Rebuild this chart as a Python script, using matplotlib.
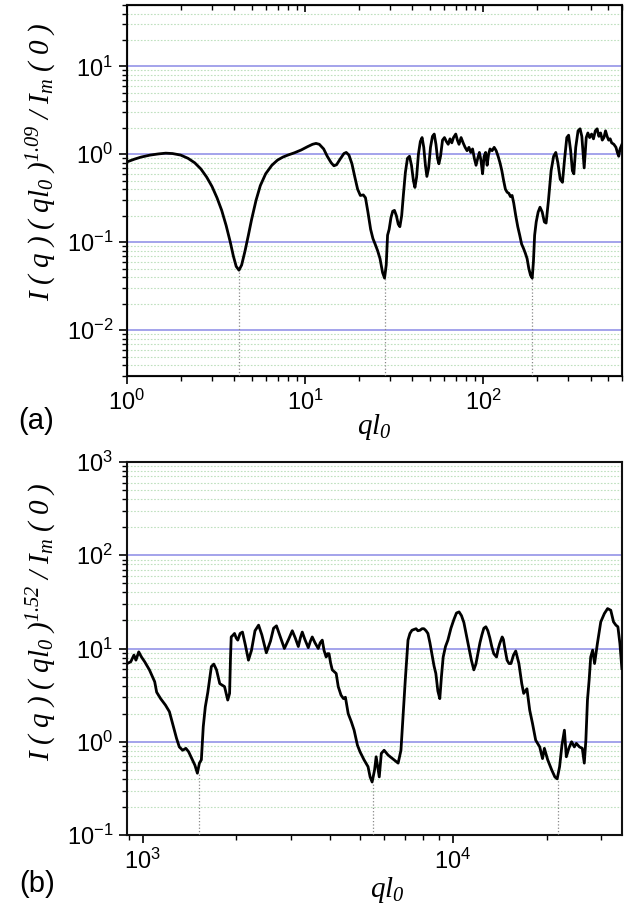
import matplotlib
matplotlib.use("Agg")
import matplotlib.pyplot as plt
from matplotlib.ticker import LogLocator, NullFormatter

# ---------------- data ----------------
# panel (a): (q l0, scaled intensity)
curve_a = [
    (1.0, 0.82), (1.1, 0.88), (1.2, 0.93), (1.35, 0.98), (1.5, 1.01), (1.65, 1.03), (1.8, 1.02),
    (2.0, 0.98), (2.2, 0.90), (2.4, 0.80), (2.6, 0.68), (2.8, 0.55), (3.0, 0.43), (3.2, 0.32),
    (3.4, 0.23), (3.6, 0.155), (3.8, 0.10), (3.95, 0.07), (4.1, 0.053), (4.25, 0.048), (4.4, 0.055),
    (4.6, 0.08), (4.8, 0.12), (5.0, 0.18), (5.3, 0.30), (5.6, 0.44), (6.0, 0.60), (6.5, 0.75),
    (7.0, 0.86), (7.5, 0.93), (8.0, 0.98), (8.7, 1.04), (9.5, 1.12), (10.3, 1.22), (11.0, 1.30),
    (11.5, 1.33), (12.0, 1.30), (12.7, 1.15), (13.3, 0.95), (14.0, 0.80), (14.5, 0.74), (15.0, 0.76),
    (15.7, 0.88), (16.5, 1.02), (17.0, 1.05), (17.6, 0.98), (18.3, 0.78), (19.0, 0.55), (19.7, 0.40),
    (20.4, 0.34), (21.2, 0.345), (21.8, 0.32), (22.5, 0.22), (23.3, 0.14), (24.0, 0.11), (24.7, 0.095),
    (25.5, 0.08), (26.3, 0.065), (27.2, 0.045), (27.9, 0.039), (28.5, 0.055), (29.0, 0.12), (29.6, 0.14),
    (30.3, 0.19), (31.0, 0.225), (31.7, 0.23), (32.5, 0.20), (33.3, 0.16), (34.0, 0.15), (34.8, 0.20),
    (35.6, 0.35), (36.5, 0.62), (37.5, 0.90), (38.5, 0.95), (39.5, 0.75), (40.5, 0.50), (41.3, 0.42),
    (42.2, 0.55), (43.2, 1.0), (44.3, 1.40), (45.3, 1.55), (46.3, 1.20), (47.3, 0.75), (48.2, 0.56),
    (49.3, 0.70), (50.5, 1.20), (51.8, 1.60), (53.0, 1.70), (54.2, 1.30), (55.3, 0.90), (56.3, 0.78),
    (57.5, 0.95), (59.0, 1.45), (60.5, 1.55), (62.0, 1.40), (63.5, 1.30), (65.0, 1.50), (66.5, 1.35),
    (68.0, 1.55), (70.0, 1.70), (71.5, 1.45), (73.0, 1.30), (75.0, 1.55), (77.0, 1.35), (79.0, 1.20),
    (81.0, 1.10), (83.0, 1.20), (85.0, 1.05), (87.0, 1.15), (89.0, 0.90), (91.0, 0.75), (93.0, 0.90),
    (95.0, 1.05), (97.0, 0.85), (99.0, 0.60), (101.0, 0.95), (103.0, 1.05), (105.0, 0.75), (107.0, 1.0),
    (109.0, 1.15), (112.0, 1.10), (115.0, 1.20), (118.0, 1.10), (121.0, 0.95), (124.0, 0.80),
    (127.0, 0.65), (130.0, 0.50), (133.0, 0.40), (136.0, 0.37), (139.0, 0.36), (142.0, 0.33),
    (145.0, 0.34), (148.0, 0.28), (152.0, 0.20), (156.0, 0.15), (160.0, 0.12), (164.0, 0.095),
    (168.0, 0.085), (172.0, 0.075), (176.0, 0.065), (180.0, 0.05), (184.0, 0.042), (188.0, 0.039),
    (191.0, 0.06), (194.0, 0.12), (198.0, 0.17), (203.0, 0.22), (208.0, 0.25), (214.0, 0.22),
    (220.0, 0.17), (225.0, 0.165), (232.0, 0.30), (240.0, 0.65), (248.0, 0.95), (255.0, 1.05),
    (262.0, 0.80), (270.0, 0.52), (278.0, 0.48), (286.0, 0.90), (294.0, 1.55), (301.0, 1.65),
    (309.0, 1.10), (316.0, 0.65), (322.0, 0.60), (330.0, 1.20), (340.0, 1.85), (349.0, 1.95),
    (357.0, 1.60), (368.0, 0.70), (378.0, 1.55), (386.0, 1.75), (395.0, 1.55), (405.0, 1.70),
    (415.0, 1.50), (425.0, 1.85), (435.0, 1.95), (445.0, 1.60), (455.0, 1.75), (465.0, 1.45),
    (475.0, 1.55), (485.0, 1.85), (495.0, 1.60), (505.0, 1.45), (515.0, 1.50), (525.0, 1.35),
    (540.0, 1.30), (555.0, 1.20), (565.0, 1.05), (575.0, 0.95), (585.0, 1.15), (600.0, 1.30),
]
dips_a_x = [4.25, 28.2, 188.0]
dips_a_y = [0.048, 0.039, 0.039]

# panel (b)
curve_b = [
    (891, 6.9), (915, 7.2), (937, 8.5), (951, 7.5), (971, 9.2), (991, 8.1), (1015, 7.2), (1051, 5.9),
    (1093, 4.4), (1109, 3.4), (1142, 2.9), (1184, 2.47), (1219, 2.1), (1256, 1.45), (1285, 1.09),
    (1312, 0.88), (1345, 0.81), (1377, 0.85), (1406, 0.78), (1439, 0.66), (1473, 0.56), (1500, 0.46),
    (1523, 0.59), (1545, 0.64), (1567, 1.45), (1591, 2.37), (1621, 3.4), (1641, 4.6), (1664, 6.4),
    (1694, 6.8), (1729, 5.9), (1771, 4.2), (1835, 3.9), (1879, 2.8), (1905, 3.3), (1918, 8.0),
    (1928, 13.3), (1950, 13.8), (1976, 14.5), (2000, 13.0), (2024, 12.3), (2060, 14.5), (2096, 15.0),
    (2140, 11.0), (2191, 7.5), (2240, 9.5), (2300, 15.5), (2362, 17.8), (2420, 14.0), (2502, 9.0),
    (2580, 12.0), (2640, 16.5), (2697, 17.5), (2760, 14.0), (2860, 10.0), (2950, 12.5), (3033, 15.5),
    (3100, 13.0), (3172, 10.5), (3220, 13.0), (3266, 15.0), (3330, 12.5), (3415, 10.2), (3470, 12.0),
    (3517, 13.3), (3590, 11.5), (3677, 10.0), (3730, 11.5), (3788, 12.3), (3840, 9.5), (3900, 8.1),
    (3940, 8.8), (3983, 8.8), (4030, 7.0), (4080, 5.9), (4200, 5.4), (4265, 3.9), (4354, 3.16),
    (4434, 2.9), (4498, 3.0), (4592, 2.0), (4699, 1.64), (4798, 1.33), (4917, 0.92), (5013, 0.78),
    (5164, 0.64), (5320, 0.54), (5402, 0.42), (5484, 0.37), (5585, 0.50), (5650, 0.69), (5716, 0.54),
    (5782, 0.42), (5870, 0.75), (5994, 0.81), (6172, 0.72), (6452, 0.64), (6651, 0.59), (6791, 0.81),
    (6906, 2.0), (7013, 4.6), (7156, 12.3), (7260, 14.5), (7371, 15.7), (7596, 16.3), (7700, 15.5),
    (7822, 15.7), (7940, 16.3), (8055, 16.3), (8180, 15.5), (8295, 14.5), (8420, 11.5), (8542, 8.8),
    (8680, 6.5), (8797, 5.4), (8930, 3.5), (9059, 2.9), (9170, 5.0), (9290, 8.1), (9450, 10.5),
    (9620, 12.3), (9840, 16.5), (10060, 20.5), (10250, 24.0), (10450, 24.7), (10640, 22.5),
    (10830, 19.0), (11030, 14.0), (11230, 10.4), (11450, 7.5), (11660, 5.9), (11840, 6.8),
    (12020, 8.8), (12200, 11.5), (12380, 14.0), (12560, 16.5), (12750, 17.1), (12940, 15.5),
    (13130, 13.0), (13320, 10.5), (13520, 8.8), (13800, 8.1), (13960, 9.8), (14130, 11.3),
    (14390, 13.3), (14520, 12.5), (14650, 10.4), (14920, 7.5), (15140, 6.9), (15360, 6.9),
    (15650, 8.5), (15910, 9.4), (16100, 8.0), (16290, 6.9), (16640, 4.2), (16880, 3.3),
    (17290, 3.7), (17650, 2.18), (18020, 1.57), (18450, 1.04), (19010, 0.88), (19410, 0.66),
    (19680, 0.85), (20170, 0.64), (20770, 0.50), (21270, 0.42), (21640, 0.40), (22030, 0.54),
    (22420, 0.92), (22830, 1.33), (23160, 0.69), (23590, 0.85), (24080, 1.0), (24580, 0.88),
    (24940, 0.96), (25530, 0.88), (26070, 0.85), (26460, 0.59), (26770, 1.04), (27090, 2.8),
    (27430, 4.6), (27750, 8.1), (28150, 9.6), (28560, 6.9), (29160, 11.3), (29900, 19.3), (30710, 23.7),
    (31450, 26.8), (32200, 25.7), (32870, 19.3), (33450, 17.8), (33950, 17.1), (34460, 11.3),
    (34970, 6.1),
]
dips_b_x = [1513, 5520, 21830]
dips_b_y = [0.46, 0.37, 0.40]

qa = [p[0] for p in curve_a]
Ia = [p[1] for p in curve_a]
qb = [p[0] for p in curve_b]
Ib = [p[1] for p in curve_b]

# ---------------- style ----------------
plt.rcParams['font.family'] = ['Liberation Sans', 'DejaVu Sans']
plt.rcParams['mathtext.fontset'] = 'custom'
plt.rcParams['mathtext.it'] = 'Liberation Serif:italic'
plt.rcParams['mathtext.rm'] = 'Liberation Serif:italic'
plt.rcParams['axes.unicode_minus'] = False

W, H = 627, 905
fig = plt.figure(figsize=(W / 100, H / 100), dpi=100)
L, R = 127, 622
ax1 = fig.add_axes([L / W, 1 - 376 / H, (R - L) / W, (376 - 5) / H])
ax2 = fig.add_axes([L / W, 1 - 835 / H, (R - L) / W, (835 - 462) / H])

major_grid = dict(color='#8a8ae6', lw=1.1)
minor_grid = dict(color='#bfe0bf', lw=0.8, ls=(0, (1.5, 1.5)))


def style(ax, xlim, ylim, top_ticks=True):
    ax.set_xscale('log')
    ax.set_yscale('log')
    ax.set_xlim(*xlim)
    ax.set_ylim(*ylim)
    ax.yaxis.set_major_locator(LogLocator(base=10, numticks=20))
    ax.yaxis.set_minor_locator(LogLocator(base=10, subs=range(2, 10), numticks=50))
    ax.xaxis.set_minor_locator(LogLocator(base=10, subs=range(2, 10), numticks=50))
    ax.xaxis.set_minor_formatter(NullFormatter())
    ax.yaxis.set_minor_formatter(NullFormatter())
    ax.yaxis.grid(True, which='major', **major_grid)
    ax.yaxis.grid(True, which='minor', **minor_grid)
    ax.set_axisbelow(True)
    ax.tick_params(which='major', direction='out', length=6, width=1.2, labelsize=17, pad=4)
    ax.tick_params(which='minor', direction='out', length=3.5, width=1.0)
    for s in ax.spines.values():
        s.set_linewidth(1.5)
        s.set_color('#111111')
    if top_ticks:
        tw = ax.twiny()
        tw.set_xscale('log')
        tw.set_xlim(*xlim)
        tw.xaxis.set_minor_locator(LogLocator(base=10, subs=range(2, 10), numticks=50))
        tw.tick_params(which='major', direction='in', length=5, width=1.2, labeltop=False)
        tw.tick_params(which='minor', direction='in', length=3.5, width=1.0)
        tw.xaxis.set_minor_formatter(NullFormatter())


style(ax1, (1, 600), (0.003, 50))
style(ax2, (890, 35000), (0.1, 1000), top_ticks=False)

ax1.plot(qa, Ia, color='black', lw=2.0, zorder=5)
ax2.plot(qb, Ib, color='black', lw=2.0, zorder=5)
ax1.vlines(dips_a_x, 0.003, dips_a_y, colors='#888888', linestyles=':', lw=0.9, zorder=3)
ax2.vlines(dips_b_x, 0.1, dips_b_y, colors='#888888', linestyles=':', lw=0.9, zorder=3)

lab_a = r'$I\ (\ q\ )\ (\ ql_{0}\ )^{1.09}\ /\ I_{m}\ (\ 0\ )$'
lab_b = r'$I\ (\ q\ )\ (\ ql_{0}\ )^{1.52}\ /\ I_{m}\ (\ 0\ )$'
fig.text(42 / W, 1 - 162 / H, lab_a, rotation=90, ha='center', va='center', fontsize=21)
fig.text(42 / W, 1 - 622 / H, lab_b, rotation=90, ha='center', va='center', fontsize=21)

xl = r'$ql_{0}$'
fig.text((L + R) / 2 / W, 1 - 427 / H, xl, ha='center', va='center', fontsize=21)
fig.text((L + R) / 2 / W + 0.02, 1 - 890 / H, xl, ha='center', va='center', fontsize=21)

fig.text(36 / W, 1 - 421 / H, '(a)', ha='center', va='center', fontsize=21)
fig.text(37 / W, 1 - 884 / H, '(b)', ha='center', va='center', fontsize=21)

fig.savefig('out.png', dpi=100)
